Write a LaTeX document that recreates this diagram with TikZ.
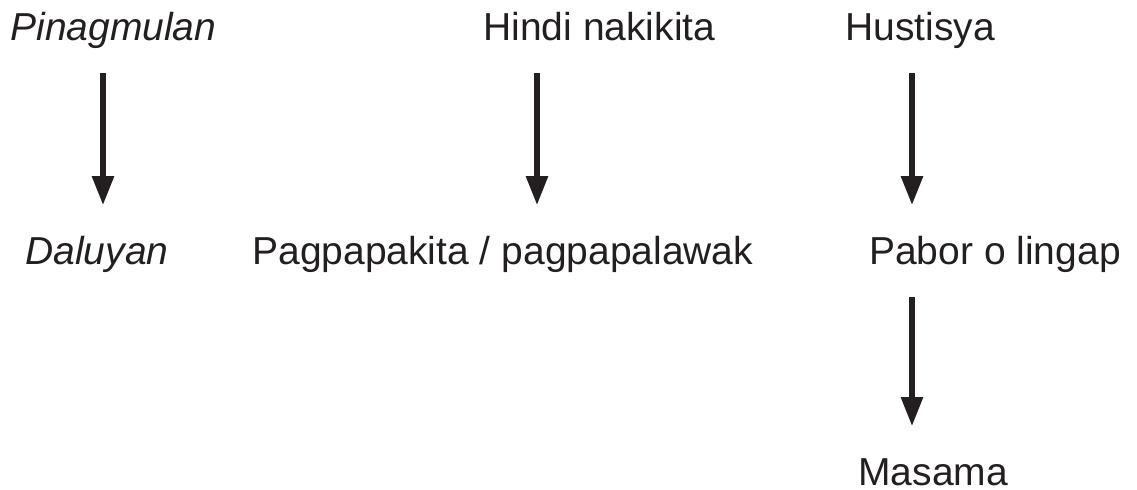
\documentclass[tikz,border=0pt]{standalone}
\usepackage{fontspec}
\setmainfont{Liberation Sans}
\usetikzlibrary{arrows.meta}
\definecolor{ink}{HTML}{231F20}
\tikzset{
  lbl/.style={anchor=base west, inner sep=0pt, text height=0.57cm, text depth=0.19cm,
    font=\fontsize{22.2}{26}\selectfont, text=ink},
  arr/.style={draw=ink, line width=0.11cm, -{Triangle[width=0.42cm,length=0.58cm]},
    shorten <=0.47cm, shorten >=0.6cm}
}
\begin{document}
\begin{tikzpicture}[x=0.02cm, y=-0.02cm]
      \useasboundingbox (0,0) rectangle (1137,490);
      % columns of the arrows
      \coordinate (c1) at (103,0);
      \coordinate (c2) at (537,0);
      \coordinate (c3) at (912,0);

      \node[lbl] (pin) at (10,40){\itshape Pinagmulan};
      \node[lbl] (hin) at (483,40){Hindi nakikita};
      \node[lbl] (hus) at (845,40){Hustisya};

      \node[lbl] (dal) at (25,264){\itshape Daluyan};
      \node[lbl] (pag) at (252,264){Pagpapakita / pagpapalawak};
      \node[lbl, anchor=base] (pab) at (995,264){Pabor o lingap};

      \node[lbl, text depth=0pt] (mas) at (858,485){Masama};

      \draw[arr] (pin.south -| c1) to (dal.north -| c1);
      \draw[arr] (hin.south -| c2) to (pag.north -| c2);
      \draw[arr] (hus.south -| c3) to (pab.north -| c3);
      \draw[arr] (pab.south -| c3) to (mas.north -| c3);
    \end{tikzpicture}
\end{document}
